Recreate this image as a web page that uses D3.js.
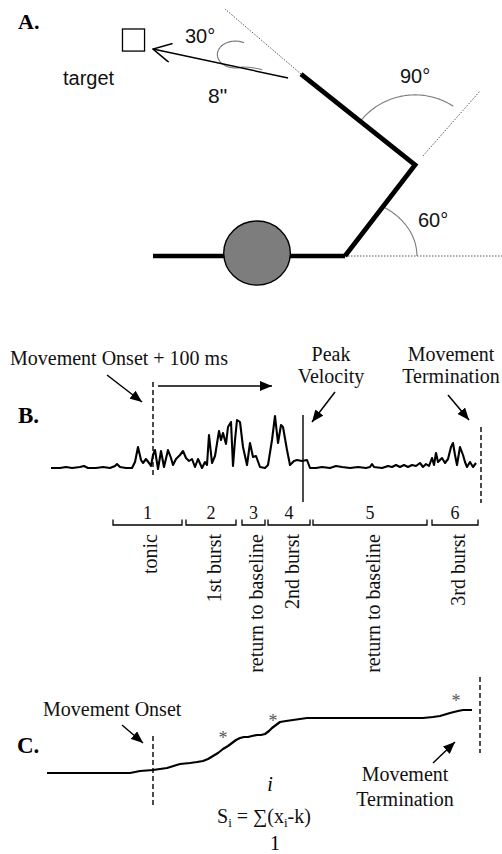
<!DOCTYPE html>
<html>
<head>
<meta charset="utf-8">
<script src="https://cdn.jsdelivr.net/npm/d3@7"></script>
<style>
  html, body { margin: 0; padding: 0; background: #fff; }
  svg { display: block; }
</style>
</head>
<body>
<script>
// ---------------- Panel A: arm posture (inches, shoulder at origin, y up) ----------------
const torso = [[-11.13, 0], [0, 0]];
const head = { cx: -5.10, cy: 0.17, rx: 1.93, ry: 1.86 };
const arm = [[0, 0], [4.06, 5.28], [-2.55, 10.55]];          // shoulder, elbow, hand
const guides = [
  [[-2.55, 10.55], [-6.96, 14.32]],                           // upper-arm extension
  [[4.52, 5.80], [7.83, 9.57]],                               // forearm extension
  [[0, 0], [9.1, 0]]                                          // shoulder horizontal
];
const reach = [[-3.30, 10.32], [-11.13, 12.0]];              // 8" movement to target
const targetBox = { cx: -12.26, cy: 12.52, size: 1.28 };
const angleLabels = ["60°", "90°", "30°"];
const reachLabel = '8"';

// ---------------- Panel B: rectified EMG (time, amplitude) ----------------
const emg = [
  [0,0],[9,0],[15,1],[21,0],[29,1],[33,2],[37,0],[45,0],[52,1],[59,0],[64,2],[66,4],[69,1],
  [75,0],[81,0],[84,6],[87,21],[90,8],[92,5],[95,9],[98,5],[100,2],[102,13],[104,18],[107,-1],
  [110,17],[113,1],[117,18],[120,10],[122,3],[125,9],[129,13],[132,17],[135,10],[138,7],[141,9],
  [144,1],[147,9],[151,0],[154,6],[156,3],[158,33],[161,5],[164,12],[168,37],[170,28],[172,35],
  [175,24],[177,41],[180,46],[182,2],[184,28],[186,48],[189,46],[192,21],[196,3],[199,25],
  [202,11],[205,12],[209,1],[214,0],[217,3],[221,28],[224,52],[227,25],[230,43],[232,41],
  [236,18],[239,3],[243,7],[246,8],[251,7],[256,8],[259,0],[265,0],[271,1],[279,0],[285,2],
  [291,1],[299,0],[307,1],[315,0],[319,1],[321,4],[323,1],[331,0],[337,2],[341,1],[345,3],
  [349,1],[353,3],[357,1],[361,3],[365,2],[369,5],[372,1],[375,4],[378,2],[381,10],[383,3],
  [385,15],[387,6],[389,8],[391,10],[394,5],[397,9],[400,21],[402,25],[404,13],[406,3],
  [409,21],[412,13],[414,6],[416,1],[419,6],[422,1],[425,5]
];
const emgEvents = { onsetPlus100: 102, peakVelocity: 252, termination: 430 };
const phaseNumbers = ["1", "2", "3", "4", "5", "6"];
const phaseNames = ["tonic", "1st burst", "return to baseline", "2nd burst", "return to baseline", "3rd burst"];
const phaseStart = [62, 135, 191, 217, 262, 381];
const phaseEnd   = [131, 185, 214, 259, 376, 427];

// ---------------- Panel C: cumulative sum S_i ----------------
const cusum = [
  [0,0],[83,0],[93,2],[106,3],[120,5],[133,9],[143,10],[150,11],[156,12],[161,14],[166,17],
  [171,20],[176,24],[181,27],[185,30],[189,33],[193,35],[197,36],[201,36],[205,37],[210,38],
  [214,38],[218,39],[222,42],[225,45],[229,48],[233,51],[239,52],[246,53],[253,54],[260,55],
  [293,55],[326,55],[360,55],[376,55],[386,56],[393,57],[403,60],[411,62],[416,63],[425,63]
];
const cusumStars = [[176, 38], [226, 55], [409, 75]];
const cusumEvents = { onset: 106, termination: 433 };

// ---------------- drawing ----------------
const W = 502, H = 854;
const SANS = "'Liberation Sans', Arial, sans-serif";
const SERIF = "'Liberation Serif', 'Times New Roman', serif";

const svg = d3.select("body").append("svg").attr("width", W).attr("height", H);
const defs = svg.append("defs");
defs.append("marker").attr("id", "solidHead")
  .attr("viewBox", "0 0 12 10").attr("refX", 12).attr("refY", 5)
  .attr("markerWidth", 12).attr("markerHeight", 10)
  .attr("markerUnits", "userSpaceOnUse").attr("orient", "auto")
  .append("path").attr("d", "M0,0 L12,5 L0,10 Z").attr("fill", "#000");
defs.append("marker").attr("id", "openHead")
  .attr("viewBox", "0 0 20 20").attr("refX", 19).attr("refY", 10)
  .attr("markerWidth", 20).attr("markerHeight", 20)
  .attr("markerUnits", "userSpaceOnUse").attr("orient", "auto")
  .append("path").attr("d", "M1,0.5 L19,10 L1,19.5").attr("fill", "none")
  .attr("stroke", "#000").attr("stroke-width", 1.5);

const line = d3.line();

// ===== Panel A =====
const pxPerInch = 17.25;
const xA = d3.scaleLinear().domain([0, 1]).range([345, 345 + pxPerInch]);
const yA = d3.scaleLinear().domain([0, 1]).range([256, 256 - pxPerInch]);
const pA = p => [xA(p[0]), yA(p[1])];
const gA = svg.append("g");

const dirDeg = (a, b) => Math.atan2(b[1] - a[1], b[0] - a[0]) * 180 / Math.PI;
const forearmDir = dirDeg(arm[0], arm[1]);
const upperDir = dirDeg(arm[1], arm[2]);
const rad = d => d * Math.PI / 180;

// dotted guide lines
guides.forEach(g => {
  gA.append("path").attr("d", line(g.map(pA)))
    .attr("stroke", "#555").attr("stroke-width", 1).attr("stroke-dasharray", "1.5,1.5")
    .attr("fill", "none");
});

// angle arcs
const arcColor = "#7a7a7a";
// 60°: elliptical arc at the shoulder
const shoulderArc = d3.range(0, forearmDir + 0.01, 1).map(t => {
  const rx = 4.17, ry = 3.36, th = rad(t);
  const r = 1 / Math.sqrt(Math.cos(th) ** 2 / rx ** 2 + Math.sin(th) ** 2 / ry ** 2);
  return pA([arm[0][0] + r * Math.cos(th), arm[0][1] + r * Math.sin(th)]);
});
gA.append("path").attr("d", line(shoulderArc)).attr("fill", "none")
  .attr("stroke", arcColor).attr("stroke-width", 1.1);
// 90°: arc at the elbow
const elbowArc = d3.range(forearmDir + 4.5, upperDir + 0.01, 1).map(t => {
  const r = 4.06, th = rad(t);
  return pA([arm[1][0] + r * Math.cos(th), arm[1][1] + r * Math.sin(th)]);
});
gA.append("path").attr("d", line(elbowArc)).attr("fill", "none")
  .attr("stroke", arcColor).attr("stroke-width", 1.1);
// 30°: hook between upper-arm extension and movement direction
const hookC = [-6.35, 11.68];
const hook = d3.range(62, 296, 4).map(t => {
  const th = rad(t);
  return pA([hookC[0] + 1.05 * Math.cos(th), hookC[1] + 0.78 * Math.sin(th)]);
});
hook.push(pA([-5.35, 10.93]));
hook.push(pA([-4.80, 10.80]));
gA.append("path").attr("d", d3.line().curve(d3.curveBasis)(hook)).attr("fill", "none")
  .attr("stroke", arcColor).attr("stroke-width", 1.1);

// torso line and head
gA.append("path").attr("d", line(torso.map(pA)))
  .attr("stroke", "#000").attr("stroke-width", 4.5).attr("fill", "none");
gA.append("ellipse")
  .attr("cx", xA(head.cx)).attr("cy", yA(head.cy))
  .attr("rx", xA(head.rx) - xA(0)).attr("ry", yA(0) - yA(head.ry))
  .attr("fill", "#7d7d7d").attr("stroke", "#000").attr("stroke-width", 1.4);

// arm segments
gA.append("path").attr("d", line(arm.map(pA)))
  .attr("stroke", "#000").attr("stroke-width", 4.8).attr("fill", "none")
  .attr("stroke-linejoin", "miter");

// movement vector and target
gA.append("path").attr("d", line(reach.map(pA)))
  .attr("stroke", "#000").attr("stroke-width", 1.5).attr("fill", "none")
  .attr("marker-end", "url(#openHead)");
const half = targetBox.size / 2;
gA.append("rect")
  .attr("x", xA(targetBox.cx - half)).attr("y", yA(targetBox.cy + half))
  .attr("width", xA(targetBox.size) - xA(0)).attr("height", yA(0) - yA(targetBox.size))
  .attr("fill", "none").attr("stroke", "#000").attr("stroke-width", 1.3);

// Panel A text
const txtA = (x, y, s, size) => gA.append("text").attr("x", x).attr("y", y)
  .attr("font-family", SANS).attr("font-size", size).attr("fill", "#111").text(s);
txtA(63, 85, "target", 20);
txtA(185, 43, angleLabels[2], 20);
txtA(400, 83, angleLabels[1], 20);
txtA(418, 227, angleLabels[0], 20);
txtA(208, 103, reachLabel, 21);
svg.append("text").attr("x", 18).attr("y", 29).attr("font-family", SERIF)
  .attr("font-weight", "bold").attr("font-size", 22).text("A.");

// ===== Panel B =====
const xB = d3.scaleLinear().domain([0, 426]).range([51, 477]);
const yB = d3.scaleLinear().domain([0, 60]).range([468, 408]);
const gB = svg.append("g");

gB.append("path")
  .attr("d", d3.line().x(d => xB(d[0])).y(d => yB(d[1]))(emg))
  .attr("fill", "none").attr("stroke", "#000").attr("stroke-width", 2.1)
  .attr("stroke-linejoin", "round");

gB.append("line")
  .attr("x1", xB(emgEvents.onsetPlus100)).attr("x2", xB(emgEvents.onsetPlus100))
  .attr("y1", 382).attr("y2", 477)
  .attr("stroke", "#000").attr("stroke-width", 1.4).attr("stroke-dasharray", "5,3");
gB.append("line")
  .attr("x1", xB(emgEvents.peakVelocity)).attr("x2", xB(emgEvents.peakVelocity))
  .attr("y1", 415).attr("y2", 502)
  .attr("stroke", "#000").attr("stroke-width", 1.4);
gB.append("line")
  .attr("x1", xB(emgEvents.termination)).attr("x2", xB(emgEvents.termination))
  .attr("y1", 427).attr("y2", 503)
  .attr("stroke", "#000").attr("stroke-width", 1.4).attr("stroke-dasharray", "5,3");

const arrow = (g, x1, y1, x2, y2) => g.append("line")
  .attr("x1", x1).attr("y1", y1).attr("x2", x2).attr("y2", y2)
  .attr("stroke", "#000").attr("stroke-width", 1.5).attr("marker-end", "url(#solidHead)");

const xOn = xB(emgEvents.onsetPlus100), xPk = xB(emgEvents.peakVelocity), xTm = xB(emgEvents.termination);
arrow(gB, xOn - 46, 375, xOn - 11, 402);
arrow(gB, xOn + 5, 386, xOn + 119, 386);
arrow(gB, xPk + 32, 392, xPk + 9, 422);
arrow(gB, xTm - 33, 395, xTm - 12, 420);

const txtS = (g, x, y, s, size, anchor) => g.append("text").attr("x", x).attr("y", y)
  .attr("font-family", SERIF).attr("font-size", size)
  .attr("text-anchor", anchor || "start").attr("fill", "#111").text(s);
txtS(gB, 10, 365, "Movement Onset + 100 ms", 20);
txtS(gB, 331, 361, "Peak", 20, "middle");
txtS(gB, 331, 383, "Velocity", 20, "middle");
txtS(gB, 451, 361, "Movement", 20, "middle");
txtS(gB, 451, 383, "Termination", 20, "middle");
svg.append("text").attr("x", 18).attr("y", 423).attr("font-family", SERIF)
  .attr("font-weight", "bold").attr("font-size", 23).text("B.");

// phase brackets
phaseNumbers.forEach((n, i) => {
  const x0 = xB(phaseStart[i]), x1 = xB(phaseEnd[i]), xm = (x0 + x1) / 2;
  gB.append("path").attr("d", `M${x0},519.5 V525 H${x1} V519.5`)
    .attr("fill", "none").attr("stroke", "#000").attr("stroke-width", 1.3);
  txtS(gB, xm, 519, n, 18, "middle");
  gB.append("text")
    .attr("transform", `translate(${xm + 3},534) rotate(-90)`)
    .attr("dy", "0.33em").attr("text-anchor", "end")
    .attr("font-family", SERIF).attr("font-size", 20).attr("fill", "#111")
    .text(phaseNames[i]);
});

// ===== Panel C =====
const xC = d3.scaleLinear().domain([0, 425]).range([47, 472]);
const yC = d3.scaleLinear().domain([0, 63]).range([773, 710]);
const gC = svg.append("g");

gC.append("path")
  .attr("d", d3.line().x(d => xC(d[0])).y(d => yC(d[1]))(cusum))
  .attr("fill", "none").attr("stroke", "#000").attr("stroke-width", 2.2)
  .attr("stroke-linejoin", "round");

gC.append("line")
  .attr("x1", xC(cusumEvents.onset)).attr("x2", xC(cusumEvents.onset))
  .attr("y1", 736).attr("y2", 808)
  .attr("stroke", "#000").attr("stroke-width", 1.4).attr("stroke-dasharray", "5,3");
gC.append("line")
  .attr("x1", xC(cusumEvents.termination)).attr("x2", xC(cusumEvents.termination))
  .attr("y1", 677).attr("y2", 753)
  .attr("stroke", "#000").attr("stroke-width", 1.4).attr("stroke-dasharray", "5,3");

cusumStars.forEach(s => {
  gC.append("text").attr("x", xC(s[0])).attr("y", yC(s[1]) + 9)
    .attr("text-anchor", "middle").attr("font-family", SERIF).attr("font-size", 18)
    .attr("fill", "#555").text("*");
});

const xCo = xC(cusumEvents.onset), xCt = xC(cusumEvents.termination);
arrow(gC, xCo - 31, 725, xCo - 10, 743);
arrow(gC, xCt - 47, 763, xCt - 25, 742);

txtS(gC, 43, 716, "Movement Onset", 20);
txtS(gC, 405, 781, "Movement", 20, "middle");
txtS(gC, 405, 806, "Termination", 20, "middle");
svg.append("text").attr("x", 17).attr("y", 753).attr("font-family", SERIF)
  .attr("font-weight", "bold").attr("font-size", 23).text("C.");

// CUSUM formula
gC.append("text").attr("x", 270).attr("y", 791).attr("text-anchor", "middle")
  .attr("font-family", SERIF).attr("font-style", "italic").attr("font-size", 20).text("i");
const f = gC.append("text").attr("x", 217).attr("y", 823)
  .attr("font-family", SERIF).attr("font-size", 20).attr("fill", "#111");
f.append("tspan").text("S");
f.append("tspan").attr("font-size", 13).attr("dy", 4).text("i");
f.append("tspan").attr("dy", -4).text(" = ∑(x");
f.append("tspan").attr("font-size", 13).attr("dy", 4).text("i");
f.append("tspan").attr("dy", -4).text("-k)");
gC.append("text").attr("x", 275).attr("y", 850).attr("text-anchor", "middle")
  .attr("font-family", SERIF).attr("font-size", 20).text("1");
</script>
</body>
</html>
